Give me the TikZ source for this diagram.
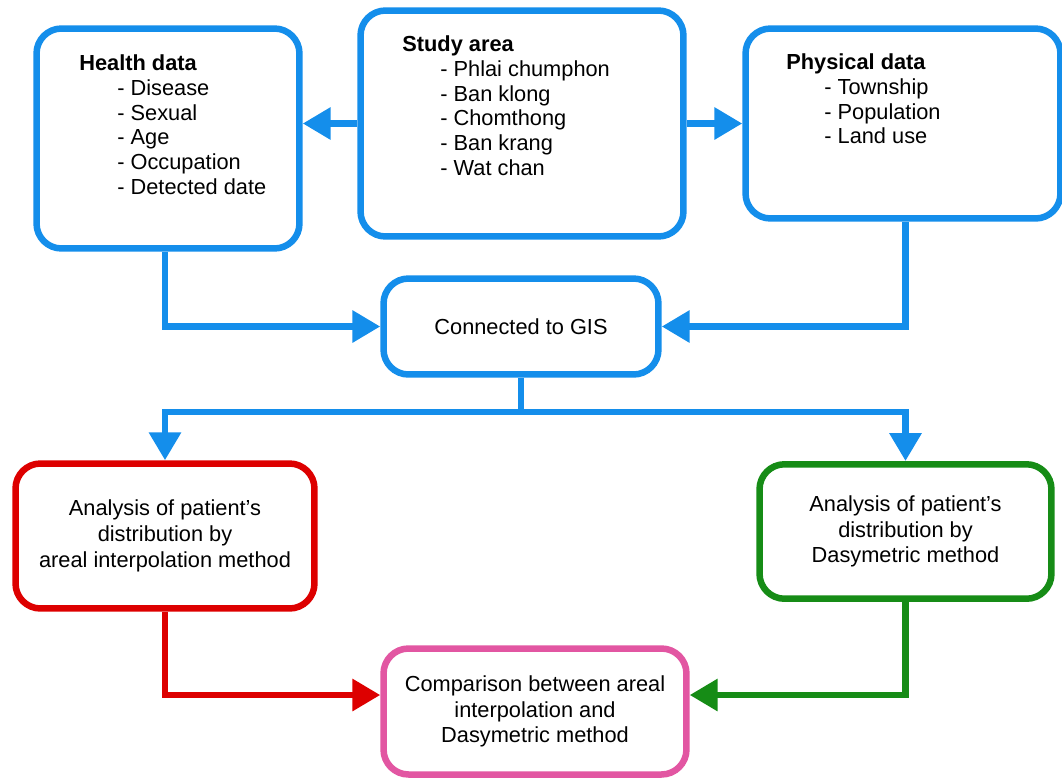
\documentclass[tikz,border=0pt]{standalone}
\usepackage{fontspec}
\setmainfont{Liberation Sans}
\usetikzlibrary{arrows.meta}
\definecolor{flowblue}{RGB}{20,142,235}
\definecolor{flowred}{RGB}{221,0,0}
\definecolor{flowgreen}{RGB}{22,140,22}
\definecolor{flowpink}{RGB}{226,86,162}

\begin{document}
\begin{tikzpicture}[x=0.02cm,y=-0.02cm,
	box/.style={draw=flowblue,line width=0.13cm,rounded corners=0.5cm,fill=white,align=center,inner sep=0,font=\fontsize{12.4}{14.6}\selectfont},
	flow/.style={draw=flowblue,line width=0.13cm,-{Triangle[length=0.56cm,width=0.62cm]}},
	list/.style={anchor=north west,inner sep=0,align=left,font=\fontsize{12.4}{14.2}\selectfont}]
	\useasboundingbox (0,0) rectangle (1062,782);
	\node[box,minimum width=5.26cm,minimum height=4.40cm] (health) at (168,138.5) {};
	\node[box,minimum width=6.46cm,minimum height=4.52cm] (study) at (522,123.5) {};
	\node[box,minimum width=6.30cm,minimum height=3.80cm] (physical) at (903,123.5) {};
	\node[box,minimum width=5.50cm,minimum height=1.92cm] (gis) at (521,326.5) {Connected to GIS};
	\node[box,draw=flowred,minimum width=5.98cm,minimum height=2.90cm] (areal) at (165,536) {Analysis of patient’s\\distribution by\\areal interpolation method};
	\node[box,draw=flowgreen,minimum width=5.84cm,minimum height=2.69cm] (dasy) at (905.5,531.5) {Analysis of patient’s\\distribution by\\Dasymetric method};
	\node[box,draw=flowpink,minimum width=6.06cm,minimum height=2.52cm] (compare) at (535,711.5) {Comparison between areal\\interpolation and\\Dasymetric method};
	\node[list] (healthlist) at (79,54) {\textbf{Health data}\\\hspace*{0.76cm}- Disease\\\hspace*{0.76cm}- Sexual\\\hspace*{0.76cm}- Age\\\hspace*{0.76cm}- Occupation\\\hspace*{0.76cm}- Detected date};
	\node[list] (studylist) at (402,35) {\textbf{Study area}\\\hspace*{0.76cm}- Phlai chumphon\\\hspace*{0.76cm}- Ban klong\\\hspace*{0.76cm}- Chomthong\\\hspace*{0.76cm}- Ban krang\\\hspace*{0.76cm}- Wat chan};
	\node[list] (physicallist) at (786,53) {\textbf{Physical data}\\\hspace*{0.76cm}- Township\\\hspace*{0.76cm}- Population\\\hspace*{0.76cm}- Land use};
	\coordinate (split) at (521,412);
	\draw[flow] (study.west) -- (study.west -| health.east);
	\draw[flow] (study.east) -- (study.east -| physical.west);
	\draw[flow] (health.south -| areal.north) |- (gis.west);
	\draw[flow] (physical.south -| dasy.north) |- (gis.east);
	\draw[draw=flowblue,line width=0.13cm] (gis.south) -- (split);
	\draw[flow] (split) -| (areal.north);
	\draw[flow] (split) -| (dasy.north);
	\draw[flow,draw=flowred] (areal.south) |- ([yshift=0.33cm]compare.west);
	\draw[flow,draw=flowgreen] (dasy.south) |- ([yshift=0.33cm]compare.east);
\end{tikzpicture}
\end{document}
